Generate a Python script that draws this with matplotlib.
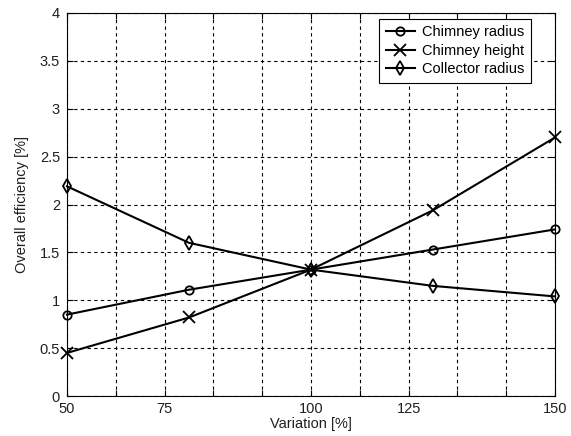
import matplotlib
matplotlib.use('Agg')
import matplotlib.pyplot as plt

# variation of each parameter [%]
variation = [50, 75, 100, 125, 150]

# overall efficiency [%]
chimney_radius = [0.85, 1.11, 1.32, 1.53, 1.74]
chimney_height = [0.45, 0.82, 1.32, 1.94, 2.70]
collector_radius = [2.19, 1.60, 1.32, 1.15, 1.04]

xtick_pos = [50, 60, 70, 80, 90, 100, 110, 120, 130, 140, 150]
xtick_lab = ['50', '', '75', '', '', '100', '', '125', '', '', '150']
ytick_pos = [0, 0.5, 1, 1.5, 2, 2.5, 3, 3.5, 4]
ytick_lab = ['0', '0.5', '1', '1.5', '2', '2.5', '3', '3.5', '4']

plt.rcParams['font.family'] = ['Liberation Sans', 'DejaVu Sans']
plt.rcParams['font.size'] = 10.5

fig = plt.figure(figsize=(5.71, 4.36), dpi=100)
ax = fig.add_axes([0.1173, 0.0917, 0.8547, 0.8785])

style = dict(color='k', lw=1.5, mfc='none', mec='k', mew=1.3, clip_on=False, zorder=3)
ax.plot(variation, chimney_radius, marker='o', ms=6, label='Chimney radius', **style)
ax.plot(variation, chimney_height, marker='x', ms=8, label='Chimney height', **style)
ax.plot(variation, collector_radius, marker='d', ms=7, label='Collector radius', **style)

ax.set_xlim(50, 150)
ax.set_ylim(0, 4)
ax.set_xticks(xtick_pos)
ax.set_xticklabels(xtick_lab)
ax.set_yticks(ytick_pos)
ax.set_yticklabels(ytick_lab)
ax.tick_params(direction='in', top=True, right=True, length=4, width=0.8,
               colors='k', labelcolor='#202020')
ax.tick_params(axis='x', pad=4)
ax.tick_params(axis='y', pad=5)
ax.grid(True, color='k', ls=(0, (3, 3)), lw=0.8)
for s in ax.spines.values():
    s.set_linewidth(0.8)

ax.set_xlabel('Variation [%]', color='#202020', labelpad=1)
ax.set_ylabel('Overall efficiency [%]', color='#202020', labelpad=8)

leg = ax.legend(loc='upper right', bbox_to_anchor=(0.951, 0.985), fancybox=False,
                framealpha=1, edgecolor='k', handlelength=2.0, borderpad=0.45,
                labelspacing=0.3, handletextpad=0.5, borderaxespad=0)
leg.get_frame().set_linewidth(0.8)

fig.savefig('out.png', dpi=100)
